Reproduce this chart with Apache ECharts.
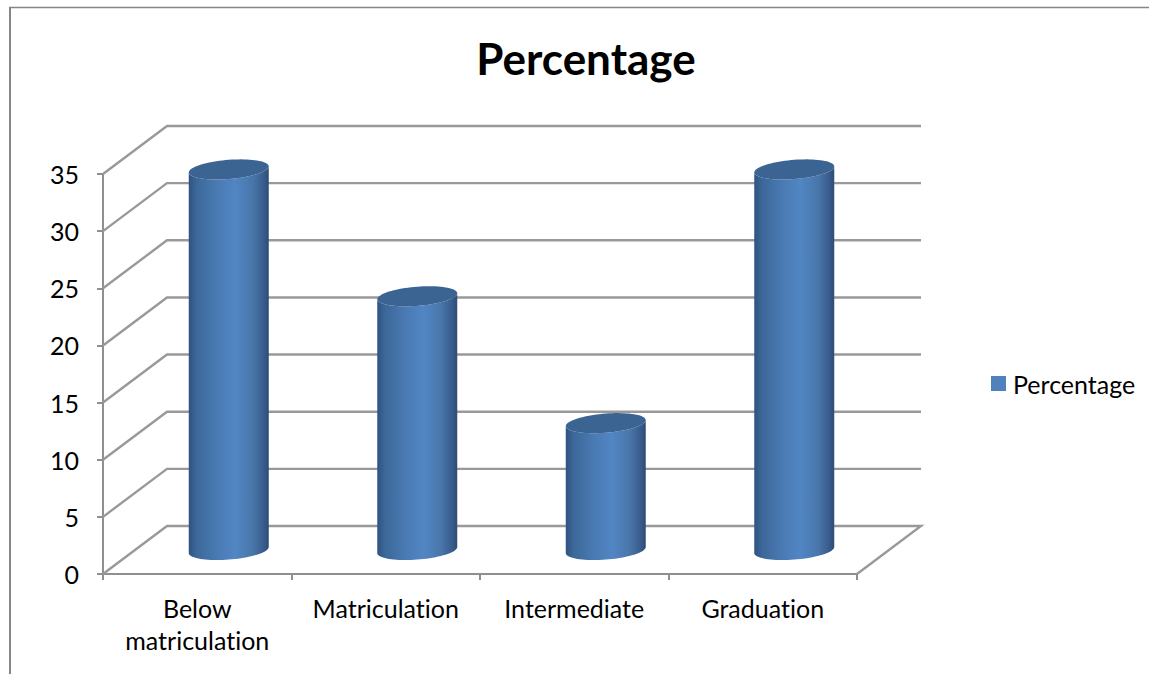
<!DOCTYPE html>
<html>
<head>
<meta charset="utf-8">
<style>html,body{margin:0;padding:0;background:#fff}#chart{width:1149px;height:674px}
#chart text{font-variant-ligatures:none !important}</style>
<script src="https://cdn.jsdelivr.net/npm/echarts@6/dist/echarts.min.js"></script>
</head>
<body>
<div id="chart"></div>
<script>
// Education levels and their share, in percent
const categories = ['Below\nmatriculation', 'Matriculation', 'Intermediate', 'Graduation'];
const percentages = [33.3, 22.2, 11.1, 33.3];
const yTicks = [0, 5, 10, 15, 20, 25, 30, 35];

// Oblique projection of the 3D box: how far the back wall sits from the front plane
const DEPTH_X = 64;
const DEPTH_Y = 48;
const CYL_RX = 40;     // half width of a cylinder
const CYL_RY = 9.6;    // vertical half axis of its end caps
const CYL_TILT = 3;    // lift of the right side of a cap against the left
const AXIS_GREY = '#8f8f8f';

// Point on a sheared ellipse: keeps the side edges vertical while tilting the cap
function capPoint(cx, cy, t) {
  return [cx + CYL_RX * Math.cos(t), cy - CYL_TILT * Math.cos(t) + CYL_RY * Math.sin(t)];
}
function capArc(cx, cy, from, to, steps) {
  const pts = [];
  for (let i = 0; i <= steps; i++) pts.push(capPoint(cx, cy, from + (to - from) * i / steps));
  return pts;
}

function renderWall(params, api) {
  const cs = params.coordSys;
  const y = api.coord([0, api.value(1)])[1];
  const left = cs.x, right = cs.x + cs.width;
  const pts = [[left, y], [left + DEPTH_X, y - DEPTH_Y], [right + DEPTH_X, y - DEPTH_Y]];
  // The lowest line also closes the floor back to the front right corner
  if (api.value(1) === 0) pts.push([right, y]);
  return {
    type: 'polyline',
    shape: { points: pts },
    style: { fill: 'none', stroke: '#999999', lineWidth: 2.4 }
  };
}

function renderCylinder(params, api) {
  const base = api.coord([api.value(0), 0]);
  const top = api.coord([api.value(0), api.value(1)]);
  const cx = base[0] + 31.5;
  const by = base[1] - DEPTH_Y / 2;
  const ty = top[1] - DEPTH_Y / 2;
  // Outline: left edge down, front of the bottom cap, right edge up, front of the top cap
  const body = capArc(cx, by, Math.PI, 0, 40).concat(capArc(cx, ty, 0, Math.PI, 40));
  return {
    type: 'group',
    children: [
      {
        type: 'polygon',
        shape: { points: body },
        style: {
          fill: new echarts.graphic.LinearGradient(0, 0, 1, 0, [
            { offset: 0, color: '#2f5281' },
            { offset: 0.1, color: '#3c6899' },
            { offset: 0.35, color: '#4a7ab3' },
            { offset: 0.58, color: '#5186c4' },
            { offset: 0.8, color: '#4976aa' },
            { offset: 0.94, color: '#385b8b' },
            { offset: 1, color: '#2d4c75' }
          ])
        }
      },
      {
        type: 'polygon',
        shape: { points: capArc(cx, ty, 0, Math.PI * 2, 80) },
        style: { fill: '#3c6493' }
      }
    ]
  };
}

const FONT = 'Lato, "Noto Sans", sans-serif';
const chart = echarts.init(document.getElementById('chart'), null, { renderer: 'svg' });
chart.setOption({
  animation: false,
  backgroundColor: '#fff',
  title: {
    text: 'Percentage',
    left: 581,
    top: 31,
    textAlign: 'center',
    textStyle: { fontFamily: FONT, fontSize: 44, fontWeight: 'bold', color: '#000' }
  },
  legend: {
    data: ['Percentage'],
    left: 986,
    top: 366,
    icon: 'rect',
    itemWidth: 15,
    itemHeight: 15,
    itemGap: 0,
    textStyle: { fontFamily: FONT, fontSize: 25, color: '#000', padding: [0, 0, 0, 2] }
  },
  grid: { left: 103, right: 292, top: 174, bottom: 100, containLabel: false },
  xAxis: {
    type: 'category',
    data: categories,
    axisLine: { lineStyle: { color: AXIS_GREY, width: 2 } },
    axisTick: { show: true, length: 6, lineStyle: { color: AXIS_GREY, width: 2 } },
    axisLabel: { interval: 0, fontFamily: FONT, fontSize: 25, lineHeight: 32, color: '#000', margin: 18 },
    splitLine: { show: false }
  },
  yAxis: {
    type: 'value',
    min: 0,
    max: 35,
    interval: 5,
    axisLine: { show: true, lineStyle: { color: AXIS_GREY, width: 2 } },
    axisTick: { show: true, length: 6, lineStyle: { color: AXIS_GREY, width: 2 } },
    axisLabel: { fontFamily: FONT, fontSize: 25, color: '#000', margin: 24, padding: [5, 0, 0, 0] },
    splitLine: { show: false }
  },
  series: [
    {
      name: 'walls',
      type: 'custom',
      renderItem: renderWall,
      clip: false,
      silent: true,
      encode: { x: 0, y: 1 },
      data: yTicks.map(t => [0, t]),
      z: 1
    },
    {
      name: 'Percentage',
      type: 'custom',
      renderItem: renderCylinder,
      clip: false,
      encode: { x: 0, y: 1 },
      itemStyle: { color: '#4f81bd' },
      data: percentages.map((v, i) => [i, v]),
      z: 3
    }
  ],
  graphic: [
    // Frame of the chart area, cut off at the right and bottom of the page
    { type: 'line', shape: { x1: 9, y1: 7.5, x2: 1149, y2: 7.5 }, style: { stroke: '#868686', lineWidth: 1.5 }, silent: true },
    { type: 'line', shape: { x1: 10, y1: 7, x2: 10, y2: 674 }, style: { stroke: '#868686', lineWidth: 2 }, silent: true }
  ]
});
</script>
</body>
</html>
